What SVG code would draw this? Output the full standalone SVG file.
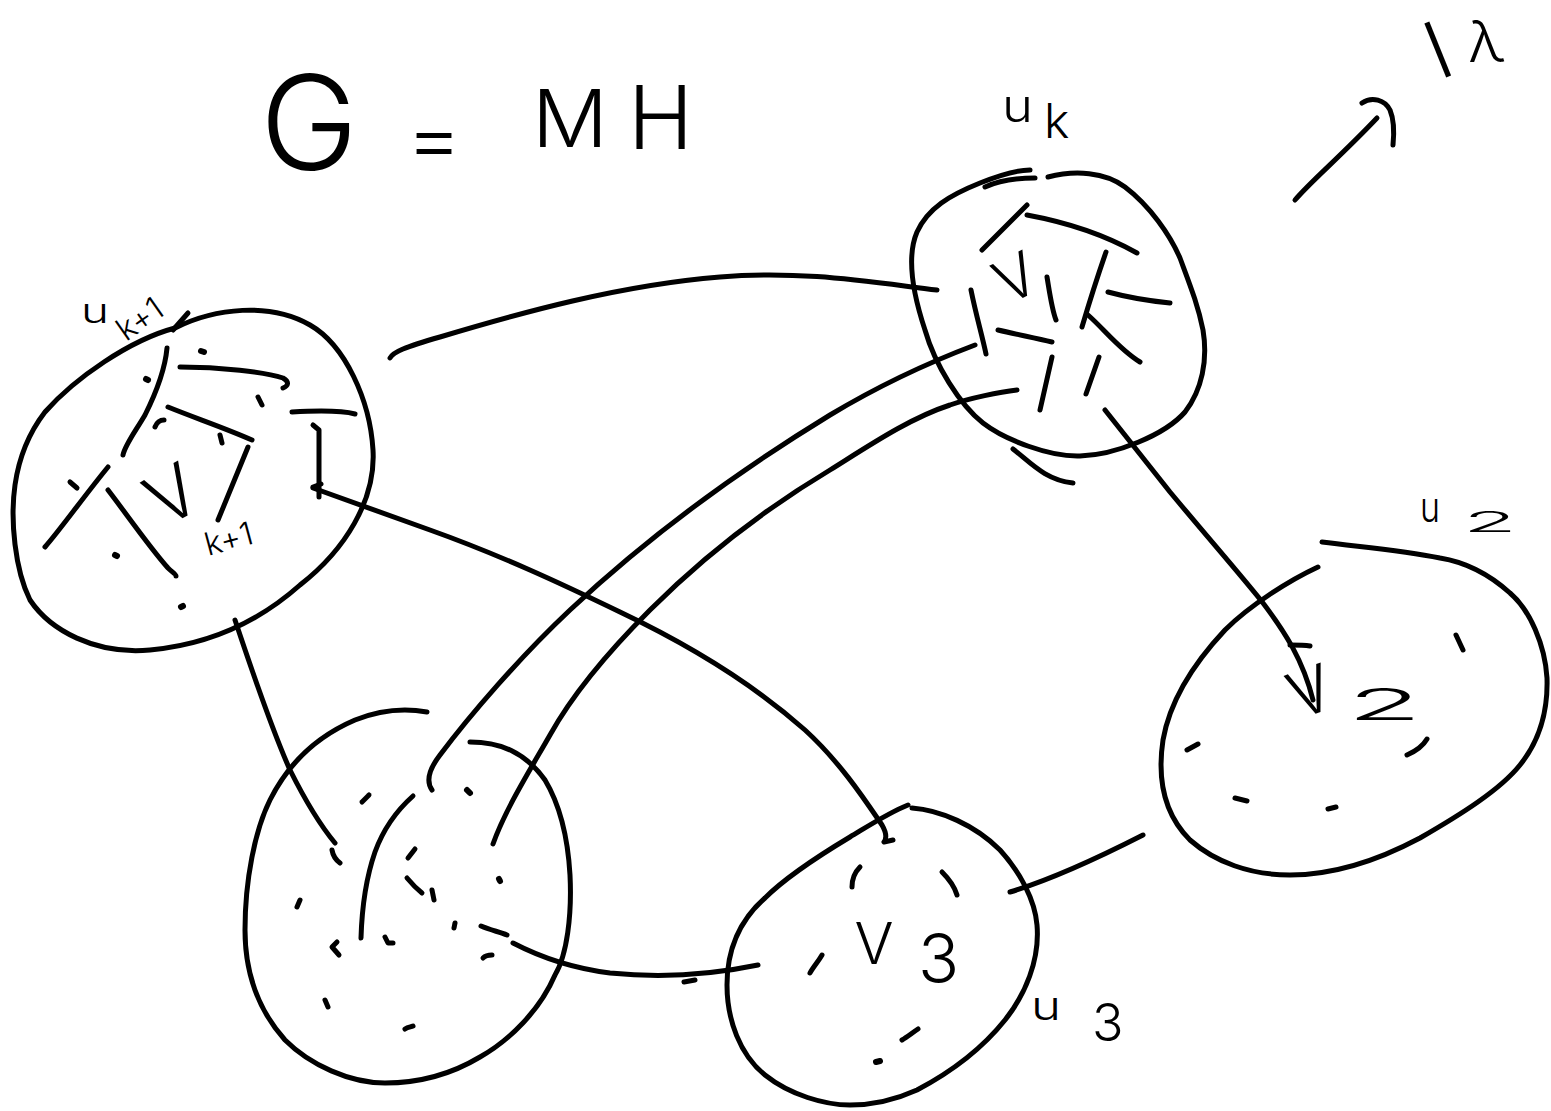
<svg xmlns="http://www.w3.org/2000/svg" width="1551" height="1111" viewBox="0 0 1551 1111">
  <style>
    .s { fill: none; stroke: #000; stroke-width: 5; stroke-linecap: round; stroke-linejoin: round; }
    .d { fill: none; stroke: #000; stroke-width: 6; stroke-linecap: round; stroke-linejoin: round; }
    .t { font-family: Inter, "Open Sans", Lato, "Liberation Sans", sans-serif; font-weight: 300; fill: #000; }
  </style>
  <rect width="1551" height="1111" fill="#fff"/>

  <!-- title -->
  <g id="title">
    <text class="t" font-weight="200"><tspan x="260" y="170" font-size="132">G</tspan> <tspan x="406" y="166" font-size="80" textLength="56" lengthAdjust="spacingAndGlyphs">=</tspan> <tspan x="532" y="147" font-size="80" textLength="76" lengthAdjust="spacingAndGlyphs">M</tspan><tspan x="628" y="149" font-size="88">H</tspan></text>
  </g>

  <!-- connectors -->
  <g id="connectors" class="s">
    <path d="M390,358 C393,352 405,347 440,337 C520,313 620,285 720,277 C800,270 870,282 937,290"/>
    <path d="M313,488 C340,498 380,512 430,530 C500,555 560,583 620,612 C700,650 760,690 805,730 C840,762 865,800 882,825 C886,832 887,838 884,842 L893,840"/>
    <path d="M235,620 C250,665 270,725 290,770 C305,800 320,825 335,843"/>
    <path d="M975,345 C930,362 880,385 830,415 C740,470 650,535 570,610 C520,657 470,715 440,755 C430,768 425,780 432,790"/>
    <path d="M1017,390 C1000,392 970,398 950,405 C910,418 870,445 830,470 C760,512 700,560 650,610 C610,650 575,690 550,735 C530,770 505,810 493,844"/>
    <path d="M1105,410 L1170,492 C1210,540 1245,580 1263,603 C1285,632 1303,660 1313,700"/>
    <path d="M513,943 C540,957 570,968 610,973 C660,978 710,975 758,965"/>
    <path d="M684,982 L695,980"/>
    <path d="M1010,892 C1040,883 1090,862 1143,835"/>
    <!-- arrow toward the note at top right -->
    <path d="M1295,200 C1310,182 1340,157 1377,118"/>
    <path d="M1362,103 C1372,96 1385,100 1390,110 C1395,122 1394,135 1393,145"/>
  </g>

  <!-- note at top right -->
  <g id="note">
    <text class="t" font-size="80" x="1440" y="80"><tspan rotate="-22">l</tspan><tspan x="1468" y="62" font-size="58">λ</tspan></text>
  </g>

  <!-- node u_{k+1} -->
  <g id="node-uk1">
    <path class="s" d="M175,328 C215,308 270,302 310,325 C345,345 370,400 373,450 C376,500 345,550 300,585 C255,625 205,645 150,650 C95,655 50,630 30,600 C15,570 10,520 15,485 C20,450 35,425 45,412 C75,378 130,340 175,328"/>
    <path class="s" d="M173,330 L188,313"/>
    <g class="s">
      <path d="M167,348 C165,370 155,395 145,415 C135,432 125,445 123,455"/>
      <path d="M180,367 C220,367 265,372 283,378 C290,382 288,386 283,388"/>
      <path d="M258,397 L262,405"/>
      <path d="M292,412 C310,411 340,410 355,414"/>
      <path d="M313,425 L319,430 L319,497"/>
      <path d="M313,487 L321,484"/>
      <path d="M168,407 C195,418 225,428 252,440"/>
      <path d="M155,427 C157,422 160,420 164,420"/>
      <path d="M220,435 L222,443"/>
      <path d="M248,447 L218,520"/>
      <path d="M108,490 C125,512 150,548 168,568 C172,572 176,574 176,576"/>
      <path d="M45,547 C60,530 85,495 108,467"/>
      <path d="M70,482 L77,488"/>
    </g>
    <g class="d">
      <path d="M201,351 L204,352"/>
      <path d="M146,379 L148,380"/>
      <path d="M115,555 L117,556"/>
      <path d="M181,607 L183,606"/>
    </g>
    <text class="t" font-size="72" text-anchor="middle" transform="translate(185,517) rotate(-30)">V</text>
    <text class="t" font-size="32" transform="translate(208,556) rotate(-15)">k+1</text>
    <text class="t" font-size="34" x="81" y="323" textLength="28" lengthAdjust="spacingAndGlyphs">u</text>
    <text class="t" font-size="32" transform="translate(126,342) rotate(-35)">k+1</text>
  </g>

  <!-- node u_k -->
  <g id="node-uk">
    <path class="s" d="M1048,177 C1075,170 1105,172 1125,187 C1150,206 1170,235 1180,258 C1190,285 1198,305 1203,330 C1208,360 1202,390 1185,412 C1165,435 1115,455 1080,456 C1050,457 1005,440 983,423 C960,405 935,365 925,330 C915,300 905,260 917,232 C928,208 950,195 980,183 C995,177 1015,170 1030,170"/>
    <path class="s" d="M985,187 C1000,180 1020,178 1035,178"/>
    <g class="s">
      <path d="M982,250 L1027,205"/>
      <path d="M1027,215 C1065,222 1105,235 1137,253"/>
      <path d="M1047,277 C1050,295 1052,310 1056,320"/>
      <path d="M971,290 C976,315 982,335 986,354"/>
      <path d="M998,330 C1015,334 1035,338 1052,342"/>
      <path d="M1106,252 C1098,275 1090,300 1082,327"/>
      <path d="M1088,315 C1105,330 1120,350 1140,362"/>
      <path d="M1108,292 C1130,298 1150,301 1170,303"/>
      <path d="M1052,357 L1040,410"/>
      <path d="M1099,357 L1086,394"/>
      <path d="M1013,449 C1030,462 1045,480 1073,483"/>
    </g>
    <text class="t" font-size="60" text-anchor="middle" transform="translate(1025,297) rotate(-26)">V</text>
    <text class="t" font-size="46" x="1002" y="122"><tspan textLength="31" lengthAdjust="spacingAndGlyphs">u</tspan><tspan x="1044" y="138" font-size="48">k</tspan></text>
  </g>

  <!-- node at bottom left -->
  <g id="node-v1">
    <path class="s" d="M470,742 C500,742 525,752 545,780 C560,805 568,840 570,875 C572,915 567,955 555,975 C540,1010 510,1040 480,1057 C450,1075 420,1083 385,1083 C350,1083 310,1065 285,1040 C260,1012 245,975 245,930 C245,880 255,830 270,800 C290,760 320,735 355,720 C380,710 405,708 427,712"/>
    <g class="s">
      <path d="M362,802 L369,795"/>
      <path d="M332,850 C333,856 336,860 340,863"/>
      <path d="M413,796 C395,812 383,830 375,852 C366,878 362,905 361,938"/>
      <path d="M415,849 L408,858"/>
      <path d="M407,878 C412,884 417,889 422,893"/>
      <path d="M432,890 L434,900"/>
      <path d="M300,900 L297,907"/>
      <path d="M455,923 L454,928"/>
      <path d="M337,942 L332,947 L339,955"/>
      <path d="M385,937 L388,943 L393,943"/>
      <path d="M481,926 C490,930 500,932 507,935"/>
      <path d="M483,958 C486,955 489,955 492,955"/>
      <path d="M325,1000 L328,1007"/>
      <path d="M405,1029 C408,1027 411,1027 413,1026"/>
    </g>
    <g class="d">
      <path d="M467,790 L470,793"/>
      <path d="M499,879 L500,881"/>
    </g>
  </g>

  <!-- node u_3 -->
  <g id="node-u3">
    <path class="s" d="M912,808 C940,810 975,825 1000,850 C1020,872 1035,900 1037,925 C1040,960 1025,995 1005,1020 C985,1045 955,1070 917,1090 C895,1100 870,1105 850,1105 C825,1105 790,1095 765,1075 C740,1055 727,1020 727,985 C727,950 740,920 765,898 C785,878 820,855 850,837 C870,825 890,812 908,805"/>
    <g class="s">
      <path d="M860,867 C855,872 852,878 852,887"/>
      <path d="M942,872 C950,880 955,888 957,895"/>
      <path d="M822,955 C818,962 813,967 810,973"/>
      <path d="M918,1029 C912,1033 907,1037 902,1040"/>
    </g>
    <path class="d" d="M876,1062 L880,1061"/>
    <text class="t" font-size="58" x="874" y="964" text-anchor="middle">V</text>
    <text class="t" font-size="68" x="918" y="983">3</text>
    <text class="t" font-size="40" x="1031" y="1020" textLength="30" lengthAdjust="spacingAndGlyphs">u</text>
    <text class="t" font-size="52" x="1092" y="1041">3</text>
  </g>

  <!-- node u_2 -->
  <g id="node-u2">
    <path class="s" d="M1318,567 C1290,580 1250,605 1225,630 C1195,662 1170,700 1163,740 C1157,780 1165,815 1190,840 C1215,862 1250,875 1290,875 C1330,875 1375,862 1420,838 C1460,815 1500,790 1520,765 C1540,740 1548,710 1547,678 C1545,645 1530,610 1510,593 C1490,575 1465,562 1440,558 C1400,550 1360,547 1322,542"/>
    <g class="s">
      <path d="M1456,635 L1463,650"/>
      <path d="M1427,739 C1423,746 1416,751 1407,755"/>
      <path d="M1187,750 L1198,744"/>
      <path d="M1235,798 L1247,801"/>
      <path d="M1328,809 L1336,807"/>
      <path d="M1290,645 C1297,645 1304,645 1310,646"/>
    </g>
    <text class="t" font-size="64" text-anchor="middle" transform="translate(1318,713) rotate(-20)">V</text>
    <text class="t" font-size="44" x="1347" y="720" textLength="75" lengthAdjust="spacingAndGlyphs">2</text>
    <text class="t" font-size="42" x="1420" y="522" textLength="20" lengthAdjust="spacingAndGlyphs">u</text>
    <text class="t" font-size="28" x="1463" y="532" textLength="54" lengthAdjust="spacingAndGlyphs">2</text>
  </g>
</svg>
